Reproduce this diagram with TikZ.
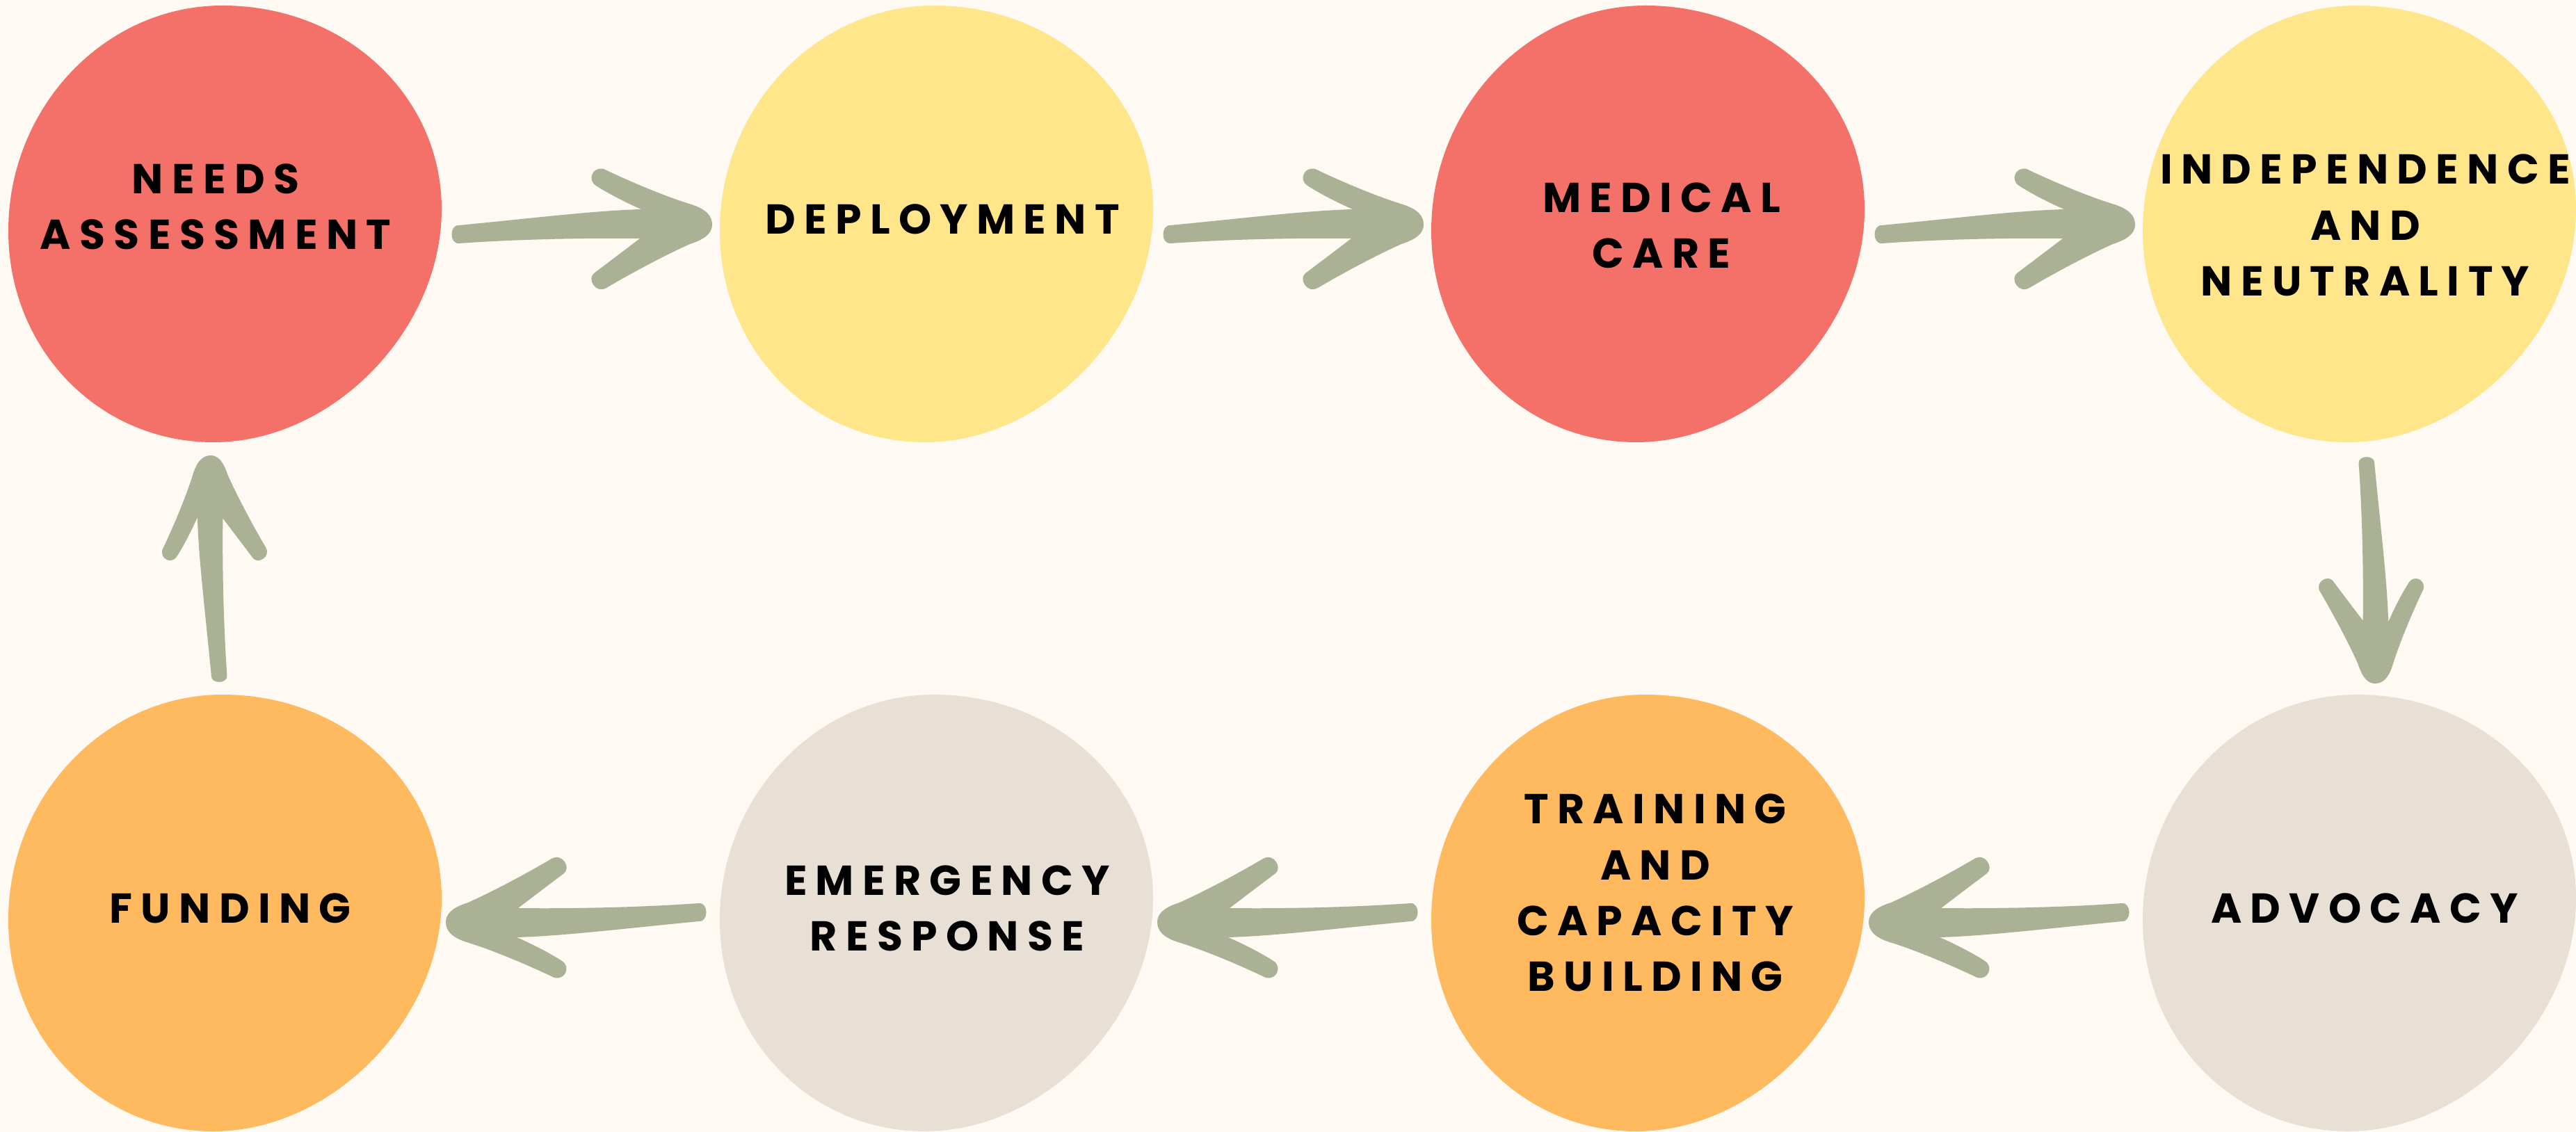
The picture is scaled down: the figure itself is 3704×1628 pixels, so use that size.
\documentclass[tikz,border=0pt]{standalone}
\usepackage{fontspec}
\newfontfamily\lblfont{Poppins}[LetterSpace=20.5]
\usetikzlibrary{calc}
\definecolor{bgc}{HTML}{FEF9F3}
\definecolor{redc}{HTML}{F4716A}
\definecolor{yelc}{HTML}{FFE68A}
\definecolor{orac}{HTML}{FFB95F}
\definecolor{beic}{HTML}{E8DFD5}
\definecolor{arrc}{HTML}{ABB195}
\tikzset{
  blob/.pic={\fill[#1] (-3,-314)
    .. controls (173,-314) and (312,-185) .. (312,-21)
    .. controls (312,153) and (155,314) .. (-16,314)
    .. controls (-181,314) and (-311,180) .. (-311,10)
    .. controls (-311,-168) and (-172,-314) .. (-3,-314) -- cycle;},
  harrow/.pic={\fill[arrc] (-364,1) .. controls (-250,-10) and (-170,-20) .. (-102,-22)
    .. controls (-125,-32) and (-150,-45) .. (-167,-56)
    .. controls (-180,-64) and (-172,-84) .. (-156,-80)
    .. controls (-110,-58) and (-60,-38) .. (-30,-29)
    .. controls (-8,-22) and (0,-12) .. (0,0)
    .. controls (0,12) and (-10,21) .. (-32,28)
    .. controls (-70,45) and (-120,72) .. (-152,91)
    .. controls (-168,100) and (-180,78) .. (-170,70)
    .. controls (-150,55) and (-125,36) .. (-104,20)
    .. controls (-180,19) and (-280,21) .. (-364,27)
    .. controls (-378,28) and (-378,0) .. (-364,1) -- cycle;},
  lbl/.style={font=\lblfont\bfseries\fontsize{17.1pt}{22.8pt}\selectfont,
    align=center, inner sep=0pt, text=black}
}
\begin{document}
\begin{tikzpicture}[x=0.01cm,y=-0.01cm]
\fill[bgc] (0,0) rectangle (3704,1628);
\useasboundingbox (0,0) rectangle (3704,1628);
\coordinate (c1) at (323,322);
\coordinate (c2) at (1346,322);
\coordinate (c3) at (2369,322);
\coordinate (c4) at (3392,322);
\coordinate (c5) at (3392,1313);
\coordinate (c6) at (2369,1313);
\coordinate (c7) at (1346,1313);
\coordinate (c8) at (323,1313);
\pic at (c1) {blob=redc};
\pic at (c2) {blob=yelc};
\pic at (c3) {blob=redc};
\pic at (c4) {blob=yelc};
\pic at (c5) {blob=beic};
\pic at (c6) {blob=orac};
\pic at (c7) {blob=beic};
\pic at (c8) {blob=orac};
\node[lbl] (n1) at ($(c1)+(-13,-25)$) {NEEDS\\ASSESSMENT};
\node[lbl] (n2) at ($(c2)+(9,-7)$) {DEPLOYMENT};
\node[lbl] (n3) at ($(c3)+(20,2)$) {MEDICAL\\CARE};
\node[lbl] (n4) at ($(c4)+(9,2)$) {INDEPENDENCE\\AND\\NEUTRALITY};
\node[lbl] (n5) at ($(c5)+(8,-7)$) {ADVOCACY};
\node[lbl] (n6) at ($(c6)+(11,-29)$) {TRAINING\\AND\\CAPACITY\\BUILDING};
\node[lbl] (n7) at ($(c7)+(16,-7)$) {EMERGENCY\\RESPONSE};
\node[lbl] (n8) at ($(c8)+(8,-7)$) {FUNDING};
\pic at ($(c2)+(-322,1)$) {harrow};
\pic at ($(c3)+(-322,1)$) {harrow};
\pic at ($(c4)+(-322,1)$) {harrow};
\pic[rotate=-90, scale=0.87] at ($(c5)+(23,-330)$) {harrow};
\pic[rotate=180] at ($(c6)+(318,13)$) {harrow};
\pic[rotate=180] at ($(c7)+(318,13)$) {harrow};
\pic[rotate=180] at ($(c8)+(318,13)$) {harrow};
\pic[rotate=90, scale=0.87] at ($(c1)+(-20,333)$) {harrow};
\end{tikzpicture}
\end{document}
